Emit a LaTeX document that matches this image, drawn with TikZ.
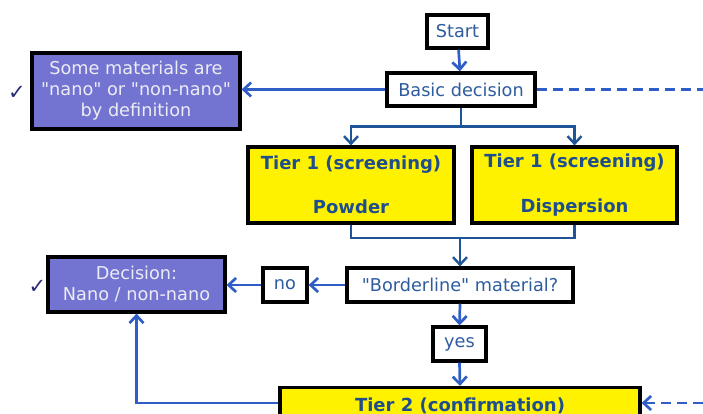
\documentclass[tikz,border=0pt]{standalone}
\usepackage{fontspec}
\setmainfont{DejaVu Sans}[Ligatures=TeXOff]
\usetikzlibrary{arrows.meta,calc}

\definecolor{txtblue}{HTML}{2E5C9E}
\definecolor{boldblue}{HTML}{1F4E8C}
\definecolor{arrblue}{HTML}{2F5FC6}
\definecolor{darkline}{HTML}{1F5597}
\definecolor{purplefill}{HTML}{7373D2}
\definecolor{paletext}{HTML}{ECECF4}
\definecolor{ticknavy}{HTML}{2B2B78}

\tikzset{
  base/.style={draw=black, line width=3.2pt, inner sep=0pt, align=center,
    font=\fontsize{17.7}{21}\selectfont},
  whitebox/.style={base, fill=white, text=txtblue},
  purplebox/.style={base, fill=purplefill, text=paletext},
  yellowbox/.style={base, fill=yellow, text=boldblue, font=\fontsize{18}{22}\selectfont\bfseries},
  flow/.style={draw=arrblue, line width=2.7pt, -{Straight Barb[length=7.5pt,width=14pt,line width=2.7pt]}},
  dashflow/.style={flow, dash pattern=on 10pt off 6pt},
  joinline/.style={draw=darkline, line width=2.2pt},
  joinarrow/.style={joinline, -{Straight Barb[length=7.5pt,width=14pt,line width=2.4pt]}},
  tick/.style={text=ticknavy, font=\fontsize{21}{22}\selectfont}
}

\begin{document}
\begin{tikzpicture}[x=1pt,y=-1pt]
\useasboundingbox (0,0) rectangle (703,414);

% boxes
\node[whitebox, minimum width=61pt, minimum height=33pt] (start) at (457.5,31.5) {Start};
\node[whitebox, minimum width=148pt, minimum height=33pt] (basic) at (461,89.5) {Basic decision};
\node[purplebox, minimum width=208pt, minimum height=76pt] (def) at (136,91)
  {Some materials are\\"nano" or "non-nano"\\by definition};
\node[yellowbox, minimum width=206pt, minimum height=76pt] (powder) at (351,185)
  {Tier 1 (screening)\\[22.5pt]Powder};
\node[yellowbox, minimum width=205pt, minimum height=76pt] (disp) at (574.5,185)
  {Tier 1 (screening)\\[22.5pt]Dispersion};
\node[whitebox, minimum width=226pt, minimum height=34pt] (border) at (460,285) {"Borderline" material?};
\node[whitebox, minimum width=44pt, minimum height=34pt] (no) at (285,285) {no};
\node[purplebox, minimum width=177pt, minimum height=55pt] (dec) at (136.5,284.5)
  {Decision:\\Nano / non-nano};
\node[whitebox, minimum width=53pt, minimum height=34pt] (yes) at (459.5,344) {yes};
\node[yellowbox, anchor=north, minimum width=360pt, inner ysep=10.5pt,
  text height=13pt, text depth=40pt] (tier2) at (460,386) {Tier 2 (confirmation)};

% check marks
\node[tick] (tickA) at (17,93) {✓};
\node[tick] (tickB) at (37.5,287) {✓};

% free ends at the right edge
\coordinate (outA) at (703,89.5);
\coordinate (outB) at (703,403);

% connectors
\draw[flow] (start) -- (basic);
\draw[flow] (basic.west) -- (def.east |- basic.west);
\draw[dashflow, -] (basic.east) -- (outA);

\coordinate (split) at ($(basic.south)+(0,19)$);
\draw[joinline] (basic.south) -- (split);
\draw[joinarrow] (split) -| (powder.north);
\draw[joinarrow] (split) -| (disp.north);

\coordinate (merge) at (border.north |- 0,238);
\draw[joinline] (powder.south) |- (merge) -| (disp.south);
\draw[joinarrow] (merge) -- (border.north);

\draw[flow] (border.west) -- (no.east);
\draw[flow] (no.west) -- (dec.east |- no.west);
\draw[flow] (border.south) -- (yes.north);
\draw[flow] (yes.south) -- (tier2.north);
\draw[flow] (tier2.west |- outB) -| (dec.south);
\draw[dashflow] (outB) -- (tier2.east |- outB);
\end{tikzpicture}
\end{document}
